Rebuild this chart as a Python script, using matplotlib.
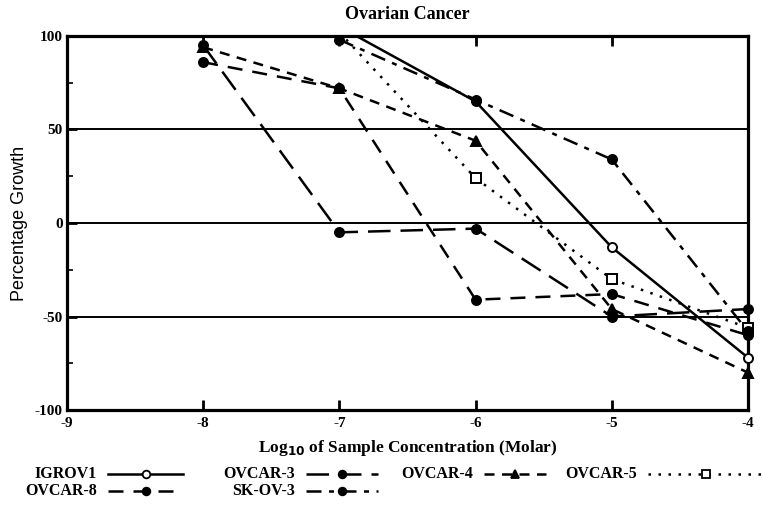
import numpy as np
import matplotlib
matplotlib.use("Agg")
import matplotlib.pyplot as plt
from matplotlib.lines import Line2D

plt.rcParams['font.family'] = ['Liberation Serif', 'DejaVu Serif']

conc = [-8, -7, -6, -5, -4]
nan = np.nan
igrov1 = [nan, 105, 65, -13, -72]
ovcar3 = [95, -5, -3, -50, -46]
ovcar4 = [94, 72, 44, -46, -80]
ovcar5 = [nan, 102, 24, -30, -56]
ovcar8 = [86, 72, -41, -38, -60]
skov3 = [nan, 98, 66, 34, -58]

names = ["IGROV1", "OVCAR-3", "OVCAR-4", "OVCAR-5", "OVCAR-8", "SK-OV-3"]
series = [igrov1, ovcar3, ovcar4, ovcar5, ovcar8, skov3]
styles = [
    dict(marker='o', mfc='white', ls='-'),
    dict(marker='o', mfc='black', ls=(0, (9, 4))),
    dict(marker='^', mfc='black', ls=(0, (4, 3))),
    dict(marker='s', mfc='white', ls=(0, (1, 3))),
    dict(marker='o', mfc='black', ls=(0, (6, 4))),
    dict(marker='o', mfc='black', ls=(0, (6, 3, 2, 3))),
]

fig = plt.figure(figsize=(7.63, 5.12), dpi=100)
ax = fig.add_axes([0.0878, 0.1992, 0.8925, 0.7305])

for y in (50, 0, -50):
    ax.axhline(y, color='black', lw=1.4, zorder=1)

for name, vals, st in zip(names, series, styles):
    ax.plot(conc, vals, color='black', lw=1.8, ls=st['ls'], zorder=3)
    v = np.array(vals, dtype=float)
    v[v > 100] = np.nan
    ax.plot(conc, v, ls='none', marker=st['marker'], ms=6.5, mfc=st['mfc'],
            mec='black', mew=1.4, zorder=4, clip_on=False)

ax.set_xlim(-9, -4)
ax.set_ylim(-100, 100)
ax.set_xticks([-9, -8, -7, -6, -5, -4])
ax.set_xticklabels(['-9', '-8', '-7', '-6', '-5', '-4'], fontweight='bold', fontsize=11)
ax.set_yticks([-100, -50, 0, 50, 100])
ax.set_yticklabels(['-100', '-50', '0', '50', '100'], fontweight='bold', fontsize=11)
ax.set_yticks([-75, -25, 25, 75], minor=True)
ax.tick_params(axis='both', which='major', direction='in', length=7, width=2, top=True, pad=3)
ax.tick_params(axis='x', which='major', pad=5)
ax.tick_params(axis='y', which='minor', direction='in', length=4, width=1.2)
for s in ax.spines.values():
    s.set_linewidth(2.3)

ax.set_title("Ovarian Cancer", fontweight='bold', fontsize=13, pad=12)
ax.set_ylabel("Percentage Growth", fontsize=13, family=['Liberation Sans', 'DejaVu Sans'], labelpad=5)
ax.set_xlabel(r"Log$_{\mathbf{10}}$ of Sample Concentration (Molar)", fontweight='bold', fontsize=12.5, labelpad=6)

# manual legend
W, H = 763.0, 512.0
pos = [(100, 474), (298, 474), (476, 474), (640, 474), (100, 491), (298, 491)]
lens = [75, 72, 62, 115, 75, 72]
for (px, py), name, st, ln in zip(pos, names, styles, lens):
    fy = 1 - py / H
    fig.text((px - 3) / W, fy, name, ha='right', va='center', fontsize=11.5, fontweight='bold')
    x0, x1 = (px + 8) / W, (px + 8 + ln) / W
    fig.add_artist(Line2D([x0, x1], [fy, fy], color='black', lw=1.8, ls=st['ls'],
                          transform=fig.transFigure))
    fig.add_artist(Line2D([(x0 + x1) / 2], [fy], ls='none', marker=st['marker'], ms=5.5,
                          mfc=st['mfc'], mec='black', mew=1.3,
                          transform=fig.transFigure))

fig.savefig("out.png", dpi=100)
